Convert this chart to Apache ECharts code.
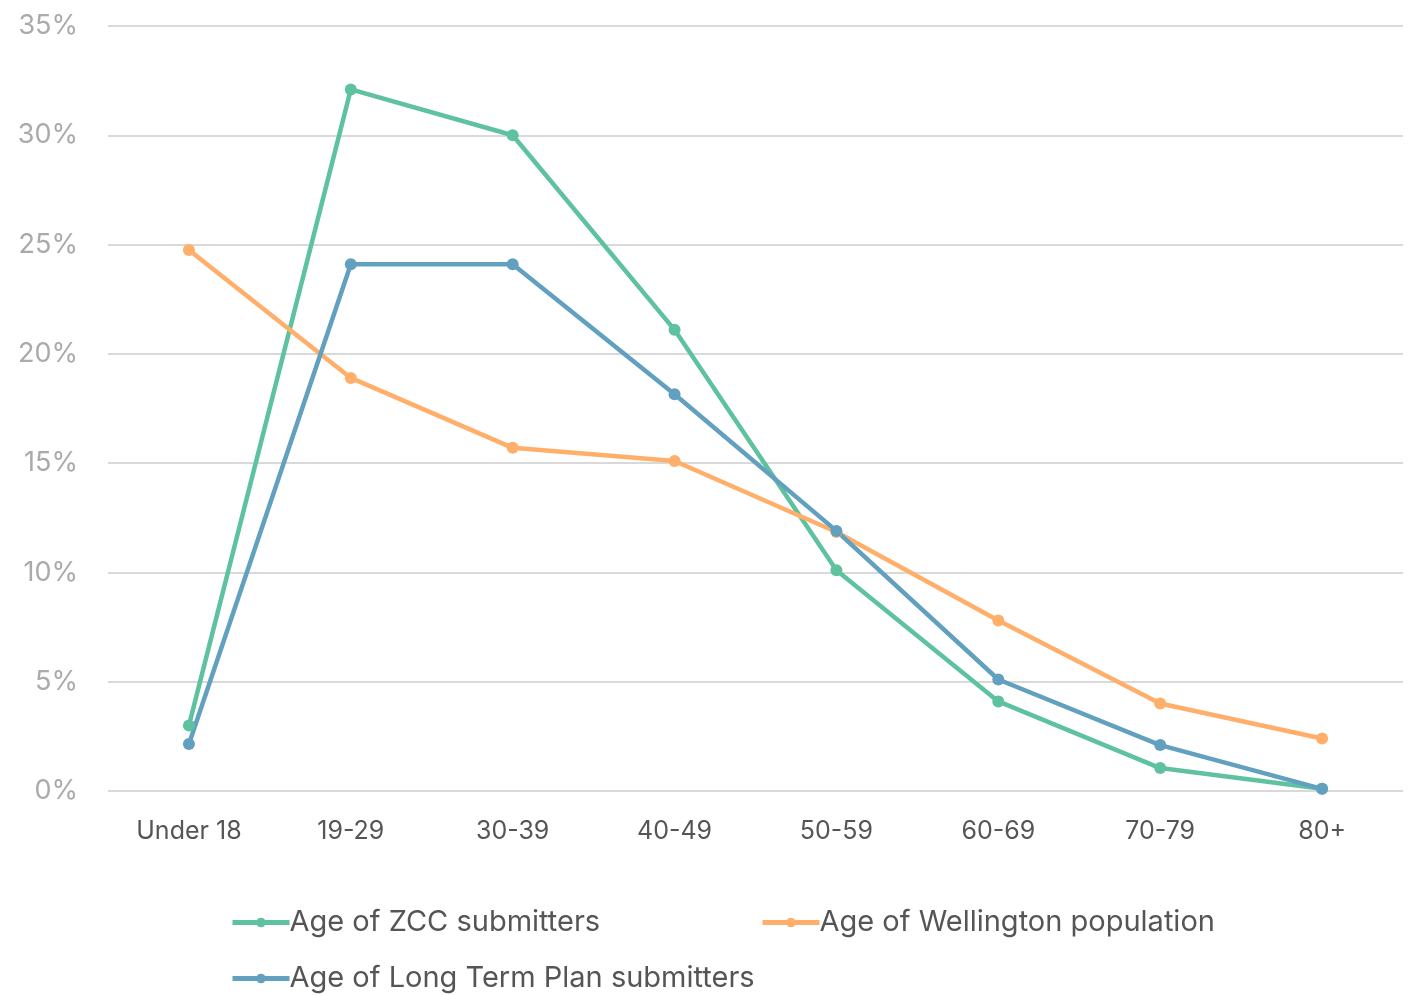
<!DOCTYPE html>
<html>
<head>
<meta charset="utf-8">
<script src="https://cdn.jsdelivr.net/npm/echarts@6/dist/echarts.min.js"></script>
<style>html,body{margin:0;padding:0;background:#fff}#c{width:1411px;height:995px}</style>
</head>
<body>
<div id="c"></div>
<script>
const categories = ['Under 18', '19-29', '30-39', '40-49', '50-59', '60-69', '70-79', '80+'];
const zccSubmitters = [3.0, 32.1, 30.0, 21.1, 10.1, 4.1, 1.05, 0.1];
const wellingtonPopulation = [24.75, 18.9, 15.7, 15.1, 11.85, 7.8, 4.0, 2.4];
const ltpSubmitters = [2.15, 24.1, 24.1, 18.15, 11.9, 5.1, 2.1, 0.1];
const seriesNames = ['Age of ZCC submitters', 'Age of Wellington population', 'Age of Long Term Plan submitters'];
const yTicks = { min: 0, max: 35, interval: 5 };

const colors = ['#5fc29e', '#ffaf6a', '#62a0c0'];
const font = 'Inter, "Noto Sans", sans-serif';
const chart = echarts.init(document.getElementById('c'));

function legendCfg(name, left, top) {
  return {
    data: [name], left: left, top: top, orient: 'horizontal',
    itemWidth: 57, itemHeight: 12, itemGap: 0,
    itemStyle: { borderWidth: 0 },
    lineStyle: { width: 5 },
    textStyle: { fontFamily: font, fontSize: 29, color: '#555', padding: [0, 0, 0, -5] },
    padding: 0
  };
}

chart.setOption({
  animation: false,
  color: colors,
  grid: { left: 108, right: 8, top: 26, bottom: 204 },
  legend: [
    legendCfg(seriesNames[0], 230, 908),
    legendCfg(seriesNames[1], 760, 908),
    legendCfg(seriesNames[2], 230, 964)
  ],
  xAxis: {
    type: 'category', data: categories, boundaryGap: true,
    axisLine: { show: false }, axisTick: { show: false },
    axisLabel: { fontFamily: font, fontSize: 25, color: '#555', margin: 28 }
  },
  yAxis: {
    type: 'value', min: yTicks.min, max: yTicks.max, interval: yTicks.interval,
    axisLine: { show: false }, axisTick: { show: false },
    axisLabel: { formatter: '{value}%', fontFamily: font, fontSize: 27, color: '#aaa', margin: 30 },
    splitLine: { lineStyle: { color: '#d9d9d9', width: 2 } }
  },
  series: [
    { name: seriesNames[0], type: 'line', data: zccSubmitters, symbol: 'circle', symbolSize: 12, lineStyle: { width: 4.5 } },
    { name: seriesNames[1], type: 'line', data: wellingtonPopulation, symbol: 'circle', symbolSize: 12, lineStyle: { width: 4.5 } },
    { name: seriesNames[2], type: 'line', data: ltpSubmitters, symbol: 'circle', symbolSize: 12, lineStyle: { width: 4.5 } }
  ]
});
</script>
</body>
</html>
